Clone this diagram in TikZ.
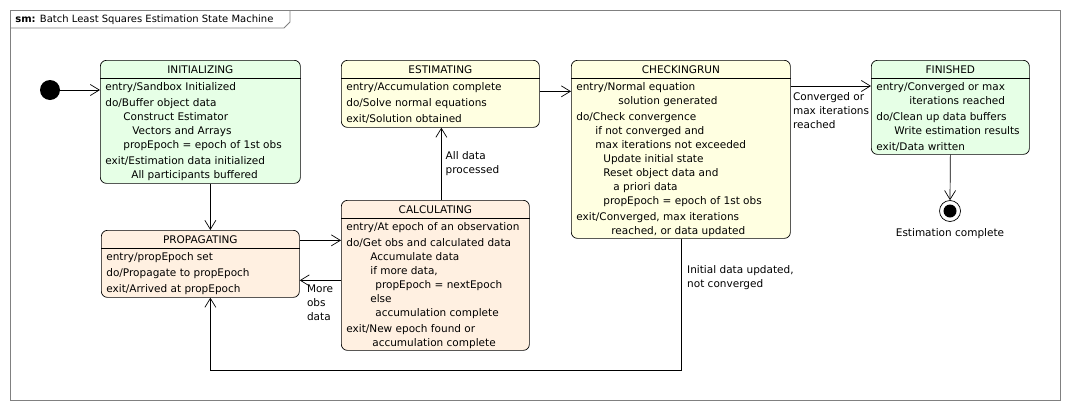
\documentclass[tikz,border=0pt]{standalone}
\usepackage{fontspec}
\setmainfont{DejaVu Sans}
\usetikzlibrary{arrows.meta,positioning}

\definecolor{initgreen}{RGB}{230,255,230}
\definecolor{estyellow}{RGB}{255,255,225}
\definecolor{proppeach}{RGB}{255,240,225}
\definecolor{framegray}{RGB}{128,128,128}

\tikzset{
 state/.style={draw, rounded corners=6pt, anchor=north west, inner sep=0pt},
 stitle/.style={font=\fontsize{10.5}{14}\selectfont, inner sep=0pt},
 sbody/.style={font=\fontsize{10.5}{14}\selectfont, align=left, anchor=north west, inner sep=0pt},
 lbl/.style={font=\fontsize{10.5}{14}\selectfont, align=left, inner sep=0pt},
 trans/.style={-{Straight Barb[length=9pt,width=11pt]}},
}
\newcommand{\ind}[1]{\hspace*{#1pt}}

\begin{document}
\begin{tikzpicture}[x=1pt,y=1pt,line width=0.7pt]
 \useasboundingbox (0,0) rectangle (1070,-410);
 % frame
 \draw[framegray, line width=0.9pt] (10,-10) rectangle (1060,-400);
 \draw[framegray, line width=0.9pt] (10,-28) -- (284,-28) -- (290,-22) -- (290,-10);
 \node[lbl, anchor=west, font=\fontsize{10}{12}\selectfont] (smtitle) at (15,-19.5) {\textbf{sm:} Batch Least Squares Estimation State Machine};
 % states
 \node[state, fill=initgreen, minimum width=200pt, minimum height=123pt] (init) at (100,-60) {};
 \node[state, fill=estyellow, minimum width=198pt, minimum height=67pt] (est) at (341,-60) {};
 \node[state, fill=estyellow, minimum width=219pt, minimum height=178pt] (check) at (571,-60) {};
 \node[state, fill=initgreen, minimum width=158pt, minimum height=94pt] (fin) at (871,-60) {};
 \node[state, fill=proppeach, minimum width=198pt, minimum height=67pt] (prop) at (101,-230) {};
 \node[state, fill=proppeach, minimum width=188pt, minimum height=150pt] (calc) at (341,-200) {};
 \foreach \s/\t in {init/INITIALIZING, est/ESTIMATING, check/CHECKINGRUN, fin/FINISHED, prop/PROPAGATING, calc/CALCULATING} {
  \node[stitle] (\s-title) at ([yshift=-9.5pt]\s.north) {\t};
  \draw ([yshift=-18.5pt]\s.north west) -- ([yshift=-18.5pt]\s.north east);
 }
 % state texts
 \node[sbody] (init-body) at ([xshift=5pt,yshift=-22pt]init.north west) {entry/Sandbox Initialized\\[2pt]
  do/Buffer object data\\ \ind{18}Construct Estimator\\ \ind{27}Vectors and Arrays\\ \ind{18}propEpoch = epoch of 1st obs\\[2pt]
  exit/Estimation data initialized\\ \ind{26}All participants buffered};
 \node[sbody] (est-body) at ([xshift=5pt,yshift=-22pt]est.north west) {entry/Accumulation complete\\[2pt]
  do/Solve normal equations\\[2pt] exit/Solution obtained};
 \node[sbody] (check-body) at ([xshift=5pt,yshift=-22pt]check.north west) {entry/Normal equation\\ \ind{42}solution generated\\[2pt]
  do/Check convergence\\ \ind{19}if not converged and\\ \ind{19}max iterations not exceeded\\ \ind{27}Update initial state\\
  \ind{27}Reset object data and\\ \ind{37}a priori data\\ \ind{27}propEpoch = epoch of 1st obs\\[2pt]
  exit/Converged, max iterations\\ \ind{35}reached, or data updated};
 \node[sbody] (fin-body) at ([xshift=5pt,yshift=-22pt]fin.north west) {entry/Converged or max\\ \ind{33}iterations reached\\[2pt]
  do/Clean up data buffers\\ \ind{18}Write estimation results\\[2pt] exit/Data written};
 \node[sbody] (prop-body) at ([xshift=5pt,yshift=-22pt]prop.north west) {entry/propEpoch set\\[2pt]
  do/Propagate to propEpoch\\[2pt] exit/Arrived at propEpoch};
 \node[sbody] (calc-body) at ([xshift=5pt,yshift=-22pt]calc.north west) {entry/At epoch of an observation\\[2pt]
  do/Get obs and calculated data\\ \ind{24}Accumulate data\\ \ind{24}if more data,\\ \ind{29}propEpoch = nextEpoch\\
  \ind{24}else\\ \ind{29}accumulation complete\\[2pt] exit/New epoch found or\\ \ind{26}accumulation complete};
 % pseudostates
 \node[circle, fill=black, minimum size=20pt, inner sep=0pt] (start) at (50,-90) {};
 \node[circle, draw, fill=white, minimum size=21pt, inner sep=0pt] (final) at (950,-211) {};
 \fill (final) circle (6.5pt);
 \node[lbl, below=6pt of final] (final-lbl) {Estimation complete};
 % transitions
 \draw[trans] (start) -- (start -| init.west);
 \draw[trans] ([xshift=10pt]init.south) -- ([xshift=10pt]init.south |- prop.north);
 \draw[trans] ([yshift=23.5pt]prop.east) -- ([yshift=23.5pt]prop.east -| calc.west);
 \draw[trans] ([yshift=-16.5pt]prop.east -| calc.west) -- ([yshift=-16.5pt]prop.east)
  node[lbl, anchor=north west, pos=1, xshift=7pt, yshift=-4pt] (more-lbl) {More\\obs\\data};
 \draw[trans] ([xshift=6pt]calc.north) -- node[lbl, anchor=west, xshift=4pt] (all-lbl) {All data\\processed} ([xshift=6pt]calc.north |- est.south);
 \draw[trans] ([yshift=2.5pt]est.east) -- ([yshift=2.5pt]est.east -| check.west);
 \draw[trans] ([yshift=-26pt]check.north east) -- ([yshift=-26pt]check.north east -| fin.west)
  node[lbl, anchor=north west, pos=0, xshift=2pt, yshift=-6pt] (conv-lbl) {Converged or\\max iterations\\reached};
 \draw[trans] (check.south) -- node[lbl, anchor=north west, pos=0.2, xshift=6pt] (upd-lbl) {Initial data updated,\\not converged}
  ++(0,-132) -| ([xshift=10pt]prop.south);
 \draw[trans] (fin.south) -- (final.north);
\end{tikzpicture}
\end{document}
